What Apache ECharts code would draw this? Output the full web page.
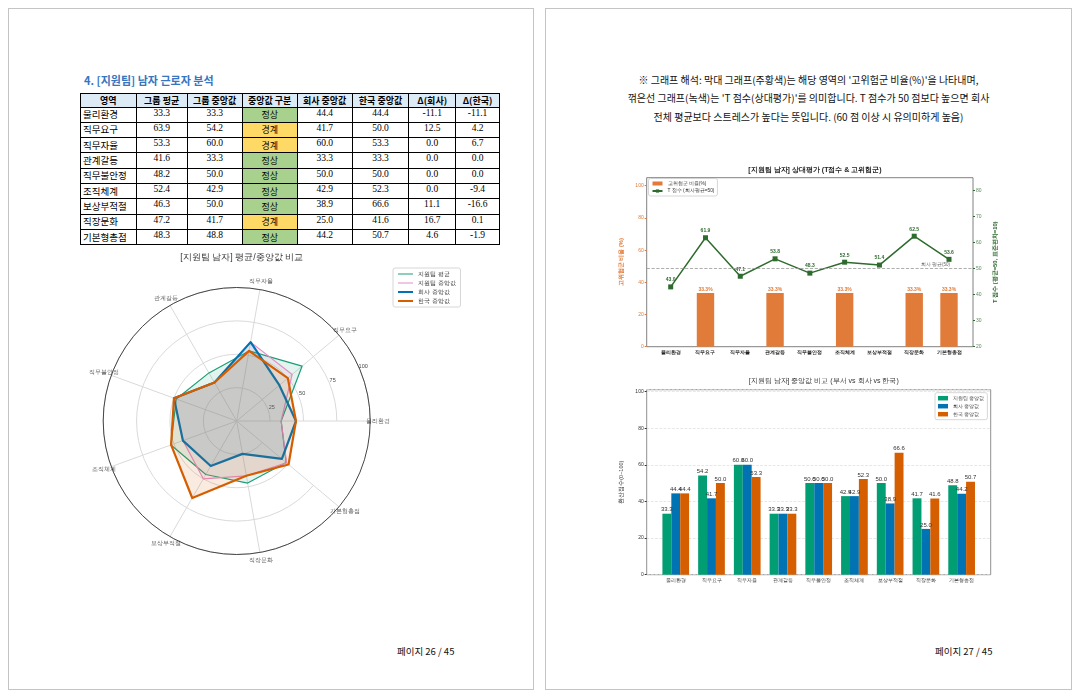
<!DOCTYPE html>
<html>
<head>
<meta charset="utf-8">
<script src="https://cdn.jsdelivr.net/npm/echarts@6/dist/echarts.min.js"></script>
<style>
  body { margin:0; width:1078px; height:693px; background:#fff; position:relative; overflow:hidden;
         font-family:"Noto Sans CJK KR", sans-serif; color:#000; }
  .page { position:absolute; top:8px; height:682px; border:1px solid #c4c4c4; box-sizing:border-box; }
  #heading { position:absolute; left:84px; top:72px; font-size:11px; line-height:16px; font-weight:bold; color:#3775bf; }
  #tbl { position:absolute; left:80px; top:92.5px; border-collapse:collapse; table-layout:fixed; width:419px; font-size:9px; }
  #tbl th, #tbl td { border:1px solid #000; padding:0; line-height:11px; }
  #tbl th { background:#ddebf7; font-weight:bold; text-align:center; vertical-align:middle; }
  #tbl tr.h { height:14px; }
  #tbl tr.r { height:15.3px; }
  #tbl td { text-align:center; vertical-align:top; font-family:"Liberation Serif","Noto Sans CJK KR",serif; font-size:9.5px; }
  #tbl td.name { text-align:left; padding-left:2px; vertical-align:middle; font-family:"Noto Sans CJK KR",sans-serif; font-size:9.5px; }
  #tbl td.ok { background:#a9d18e; vertical-align:middle; font-family:"Noto Sans CJK KR",sans-serif; font-size:9px; }
  #tbl td.warn { background:#ffd966; vertical-align:middle; font-family:"Noto Sans CJK KR",sans-serif; font-size:9px; }
  #note { position:absolute; left:545px; width:527px; top:70.5px; text-align:center; font-size:10px; line-height:18.5px; color:#111; }
  .pnum { position:absolute; top:644px; font-size:9.5px; line-height:14px; color:#111; }
  .chart { position:absolute; }
</style>
</head>
<body>
<div class="page" style="left:8px; width:526px;"></div>
<div class="page" style="left:545px; width:527px;"></div>

<div id="heading">4. [지원팀] 남자 근로자 분석</div>
<table id="tbl"></table>

<div id="note">
  ※ 그래프 해석: 막대 그래프(주황색)는 해당 영역의 '고위험군 비율(%)'을 나타내며,<br>
  꺾은선 그래프(녹색)는 'T 점수(상대평가)'를 의미합니다. T 점수가 50 점보다 높으면 회사<br>
  전체 평균보다 스트레스가 높다는 뜻입니다. (60 점 이상 시 유의미하게 높음)
</div>

<div class="pnum" style="left:397px;">페이지 26 / 45</div>
<div class="pnum" style="left:935px;">페이지 27 / 45</div>

<div id="radar" class="chart" style="left:0px; top:247px; width:473px; height:333px;"></div>
<div id="combo" class="chart" style="left:615px; top:155px; width:395px; height:205px;"></div>
<div id="bars" class="chart" style="left:615px; top:368px; width:395px; height:222px;"></div>

<script>
// 영역 (categories)
var categories = ['물리환경', '직무요구', '직무자율', '관계갈등', '직무불안정', '조직체계', '보상부적절', '직장문화', '기본형총점'];

// table values
var groupAvg = [33.3, 63.9, 53.3, 41.6, 48.2, 52.4, 46.3, 47.2, 48.3];
var groupMed = [33.3, 54.2, 60.0, 33.3, 50.0, 42.9, 50.0, 41.7, 48.8];
var medClass = ['정상', '경계', '경계', '정상', '정상', '정상', '정상', '경계', '정상'];
var companyMed = [44.4, 41.7, 60.0, 33.3, 50.0, 42.9, 38.9, 25.0, 44.2];
var koreaMed = [44.4, 50.0, 53.3, 33.3, 50.0, 52.3, 66.6, 41.6, 50.7];
var diffCompany = [-11.1, 12.5, 0.0, 0.0, 0.0, 0.0, 11.1, 16.7, 4.6];
var diffKorea = [-11.1, 4.2, 6.7, 0.0, 0.0, -9.4, -16.6, 0.1, -1.9];
var tableHeaders = ['영역', '그룹 평균', '그룹 중앙값', '중앙값 구분', '회사 중앙값', '한국 중앙값', 'Δ(회사)', 'Δ(한국)'];

// 상대평가
var tScore = [43.0, 61.9, 47.1, 53.8, 48.3, 52.5, 51.4, 62.5, 53.6];
var highRisk = [0, 33.3, 0, 33.3, 0, 33.3, 0, 33.3, 33.3];

// radar radial ticks
var radarMin = 0, radarMax = 100, radarStep = 25;

// ---- table ----
var colW = [55.7, 51, 55, 55, 55, 56.7, 46.7, 44];
var html = '<colgroup>' + colW.map(function (w) { return '<col style="width:' + w + 'px">'; }).join('') + '</colgroup>';
html += '<tr class="h">' + tableHeaders.map(function (h) { return '<th>' + h + '</th>'; }).join('') + '</tr>';
categories.forEach(function (c, i) {
  html += '<tr class="r">'
    + '<td class="name">' + c + '</td>'
    + '<td>' + groupAvg[i].toFixed(1) + '</td>'
    + '<td>' + groupMed[i].toFixed(1) + '</td>'
    + '<td class="' + (medClass[i] === '경계' ? 'warn' : 'ok') + '">' + medClass[i] + '</td>'
    + '<td>' + companyMed[i].toFixed(1) + '</td>'
    + '<td>' + koreaMed[i].toFixed(1) + '</td>'
    + '<td>' + diffCompany[i].toFixed(1) + '</td>'
    + '<td>' + diffKorea[i].toFixed(1) + '</td>'
    + '</tr>';
});
document.getElementById('tbl').innerHTML = html;

// ---- radar ----
var rc = [236.7, 174], rr = 133.5;
var thinIcon = 'path://M0,0H30V2H0Z', thickIcon = 'path://M0,0H30V4H0Z';
function radarItem(name, vals, color, width) {
  return {
    name: name, value: vals, symbol: 'none',
    lineStyle: { color: color, width: width },
    itemStyle: { color: color },
    areaStyle: { color: color, opacity: 0.12 }
  };
}
var radarChart = echarts.init(document.getElementById('radar'));
radarChart.setOption({
  animation: false,
  title: {
    text: '[지원팀 남자] 평균/중앙값 비교', left: 236.7, textAlign: 'center', top: 1,
    textStyle: { fontSize: 8.8, fontWeight: 'normal', color: '#333' }
  },
  legend: {
    orient: 'vertical', left: 393, top: 21, itemWidth: 15, itemHeight: 6, itemGap: 3,
    padding: [3, 5], borderColor: '#d6d6d6', borderWidth: 1, borderRadius: 2, backgroundColor: '#fff',
    textStyle: { fontSize: 5.5, color: '#333' },
    data: [
      { name: '지원팀 평균', icon: thinIcon }, { name: '지원팀 중앙값', icon: thinIcon },
      { name: '회사 중앙값', icon: thickIcon }, { name: '한국 중앙값', icon: thickIcon }
    ]
  },
  radar: {
    center: rc, radius: rr, startAngle: 0, shape: 'circle',
    indicator: categories.map(function (c) { return { name: c, min: radarMin, max: radarMax }; }),
    axisName: { show: false }, axisLine: { show: false }, splitLine: { show: false }, splitArea: { show: false }
  },
  polar: [
    { center: rc, radius: rr },
    { center: rc, radius: rr },
    { center: rc, radius: rr + 8 }
  ],
  angleAxis: [
    {
      polarIndex: 0, type: 'category', data: categories, startAngle: 0, clockwise: false, boundaryGap: false,
      axisLine: { show: false }, axisTick: { show: false }, axisLabel: { show: false },
      splitLine: { show: true, lineStyle: { color: '#d9d9d9', width: 1 } }
    },
    {
      // full outer circle + radial tick labels live on this polar
      polarIndex: 1, type: 'value', min: 0, max: 360, startAngle: 24,
      axisLine: { show: true, lineStyle: { color: '#444', width: 1 } },
      axisTick: { show: false }, axisLabel: { show: false }, splitLine: { show: false }
    },
    { polarIndex: 2, type: 'value', min: 0, max: 360, startAngle: 0, clockwise: false, show: false }
  ],
  radiusAxis: [
    {
      polarIndex: 0, min: radarMin, max: radarMax, interval: radarStep,
      axisLine: { show: false }, axisTick: { show: false }, axisLabel: { show: false },
      splitLine: { show: true, lineStyle: { color: '#d9d9d9', width: 1 } }
    },
    {
      polarIndex: 1, min: radarMin, max: radarMax, interval: radarStep,
      axisLine: { show: false }, axisTick: { show: false }, splitLine: { show: false },
      axisLabel: { showMinLabel: false, fontSize: 5.5, color: '#444', margin: 0,
                   align: 'center', verticalAlign: 'middle', padding: [0, 0, 4, 9] }
    },
    { polarIndex: 2, min: radarMin, max: radarMax, show: false }
  ],
  series: [
    {
      type: 'radar', symbol: 'none',
      data: [
        radarItem('지원팀 평균', groupAvg, '#1b9e77', 1.2),
        radarItem('지원팀 중앙값', groupMed, '#e38cc4', 1.2),
        radarItem('회사 중앙값', companyMed, '#0173b2', 2.2),
        radarItem('한국 중앙값', koreaMed, '#d55e00', 2.2)
      ]
    },
    {
      // category names around the circle, centred at a fixed radius
      type: 'scatter', coordinateSystem: 'polar', polarIndex: 2, silent: true, symbolSize: 0,
      clip: false,
      data: categories.map(function (c, i) { return [radarMax, i * 360 / categories.length]; }),
      label: {
        show: true, position: 'inside', fontSize: 5.5, color: '#333',
        formatter: function (p) { return categories[p.dataIndex]; }
      }
    }
  ]
});

// ---- 상대평가 (T점수 & 고위험군) ----
var orange = '#e07b39';
var green = '#2e6b2e';
var comboChart = echarts.init(document.getElementById('combo'));
comboChart.setOption({
  animation: false,
  title: {
    text: '[지원팀 남자] 상대평가 (T점수 & 고위험군)', left: 195, textAlign: 'center', top: 7,
    textStyle: { fontSize: 7, fontWeight: 'bold', color: '#222' }
  },
  legend: {
    orient: 'vertical', left: 33.5, top: 23.5, itemWidth: 10, itemHeight: 4, itemGap: 2.5,
    padding: [2.5, 3], borderColor: '#ccc', borderWidth: 0.8, borderRadius: 2, backgroundColor: '#fff',
    textStyle: { fontSize: 4.8, color: '#333' },
    data: [{ name: '고위험군 비율(%)', icon: 'rect' }, { name: 'T 점수 (회사평균=50)' }]
  },
  grid: [
    { left: 31.7, top: 22.7, width: 326.3, height: 169, show: true, borderColor: '#808080', borderWidth: 1,
      backgroundColor: 'transparent', outerBoundsMode: 'none' },
    { left: 38.3, top: 22.7, width: 313.1, height: 169, outerBoundsMode: 'none' }
  ],
  xAxis: [
    { gridIndex: 0, type: 'value', min: 0, max: 1, show: false },
    {
      gridIndex: 1, type: 'category', data: categories,
      axisLine: { show: false },
      axisTick: { alignWithLabel: true, length: 2, lineStyle: { color: '#333' } },
      axisLabel: { fontSize: 5, fontWeight: 'bold', color: '#222', margin: 3, interval: 0 }
    }
  ],
  yAxis: [
    {
      gridIndex: 0, type: 'value', position: 'left', min: 0, max: 105, interval: 20,
      name: '고위험군 비율 (%)', nameLocation: 'middle', nameGap: 13, nameRotate: 90,
      nameTextStyle: { color: orange, fontSize: 5.8, fontWeight: 'bold' },
      axisLine: { show: false }, splitLine: { show: false },
      axisTick: { show: true, length: 2, lineStyle: { color: orange } },
      axisLabel: { fontSize: 5, color: orange, margin: 3, showMaxLabel: false }
    },
    {
      gridIndex: 0, type: 'value', position: 'right', min: 20, max: 85, interval: 10,
      name: 'T 점수 (평균=50, 표준편차=10)', nameLocation: 'middle', nameGap: 11, nameRotate: 90,
      nameTextStyle: { color: green, fontSize: 5.8, fontWeight: 'bold' },
      axisLine: { show: false }, splitLine: { show: false },
      axisTick: { show: true, length: 2, lineStyle: { color: green } },
      axisLabel: { fontSize: 5, color: '#5a8a5a', margin: 3, showMaxLabel: false }
    },
    { gridIndex: 1, type: 'value', min: 0, max: 105, show: false },
    { gridIndex: 1, type: 'value', min: 20, max: 85, show: false }
  ],
  series: [
    {
      name: '고위험군 비율(%)', type: 'bar', xAxisIndex: 1, yAxisIndex: 2, data: highRisk, barWidth: '50%',
      itemStyle: { color: orange },
      label: {
        show: true, position: 'top', distance: 1, fontSize: 5, fontWeight: 'bold', color: orange,
        formatter: function (p) { return p.value > 0 ? p.value.toFixed(1) + '%' : ''; }
      }
    },
    {
      name: 'T 점수 (회사평균=50)', type: 'line', xAxisIndex: 1, yAxisIndex: 3, data: tScore,
      symbol: 'rect', symbolSize: 5, lineStyle: { color: green, width: 1.5 }, itemStyle: { color: green },
      label: {
        show: true, position: 'top', distance: 2, fontSize: 5, fontWeight: 'bold', color: green,
        formatter: function (p) { return p.value.toFixed(1); }
      }
    },
    {
      type: 'line', xAxisIndex: 0, yAxisIndex: 1, data: [], silent: true,
      markLine: {
        silent: true, symbol: 'none',
        lineStyle: { type: 'dashed', color: '#999', width: 0.8 },
        label: { position: 'insideEndTop', formatter: '회사 평균(50)', fontSize: 4.5, color: '#666',
                 padding: [0, 22, 0, 0], distance: 1 },
        data: [{ yAxis: 50 }]
      }
    }
  ]
});

// ---- 중앙값 비교 ----
var barChart = echarts.init(document.getElementById('bars'));
function medBar(name, vals, color) {
  return {
    name: name, type: 'bar', xAxisIndex: 1, yAxisIndex: 1, data: vals, barWidth: 8.9, barGap: '0%',
    itemStyle: { color: color },
    label: { show: true, position: 'top', distance: 1, fontSize: 6, color: '#333',
             formatter: function (p) { return p.value.toFixed(1); } }
  };
}
barChart.setOption({
  animation: false,
  title: {
    text: '[지원팀 남자] 중앙값 비교 (부서 vs 회사 vs 한국)', left: 203.7, textAlign: 'center', top: 5,
    textStyle: { fontSize: 7, fontWeight: 'normal', color: '#333' }
  },
  legend: {
    orient: 'vertical', left: 320, top: 24.7, itemWidth: 10, itemHeight: 4.5, itemGap: 3,
    padding: [3, 3], borderColor: '#ccc', borderWidth: 0.8, borderRadius: 2, backgroundColor: '#fff',
    textStyle: { fontSize: 5, color: '#333' },
    data: [{ name: '지원팀 중앙값', icon: 'rect' }, { name: '회사 중앙값', icon: 'rect' }, { name: '한국 중앙값', icon: 'rect' }]
  },
  grid: [
    { left: 31.7, top: 21.7, width: 344, height: 185, show: true, borderColor: '#909090', borderWidth: 1,
      backgroundColor: 'transparent', outerBoundsMode: 'none' },
    { left: 42.9, top: 21.7, width: 321.6, height: 185, outerBoundsMode: 'none' }
  ],
  xAxis: [
    { gridIndex: 0, type: 'value', min: 0, max: 1, show: false },
    {
      gridIndex: 1, type: 'category', data: categories,
      axisLine: { show: false },
      axisTick: { alignWithLabel: true, length: 2, lineStyle: { color: '#333' } },
      axisLabel: { fontSize: 5, color: '#333', margin: 3, interval: 0 }
    }
  ],
  yAxis: [
    {
      gridIndex: 0, type: 'value', min: 0, max: 101, interval: 20,
      name: '환산점수(0~100)', nameLocation: 'middle', nameGap: 13, nameRotate: 90,
      nameTextStyle: { color: '#333', fontSize: 5.5 },
      axisLine: { show: false },
      axisTick: { show: true, length: 2, lineStyle: { color: '#333' } },
      axisLabel: { fontSize: 5, color: '#333', margin: 3, showMaxLabel: false },
      splitLine: { show: true, lineStyle: { color: '#dcdcdc', type: 'dashed', width: 0.7 } }
    },
    { gridIndex: 1, type: 'value', min: 0, max: 101, show: false }
  ],
  series: [
    medBar('지원팀 중앙값', groupMed, '#029e73'),
    medBar('회사 중앙값', companyMed, '#0173b2'),
    medBar('한국 중앙값', koreaMed, '#d55e00')
  ]
});
</script>
</body>
</html>
